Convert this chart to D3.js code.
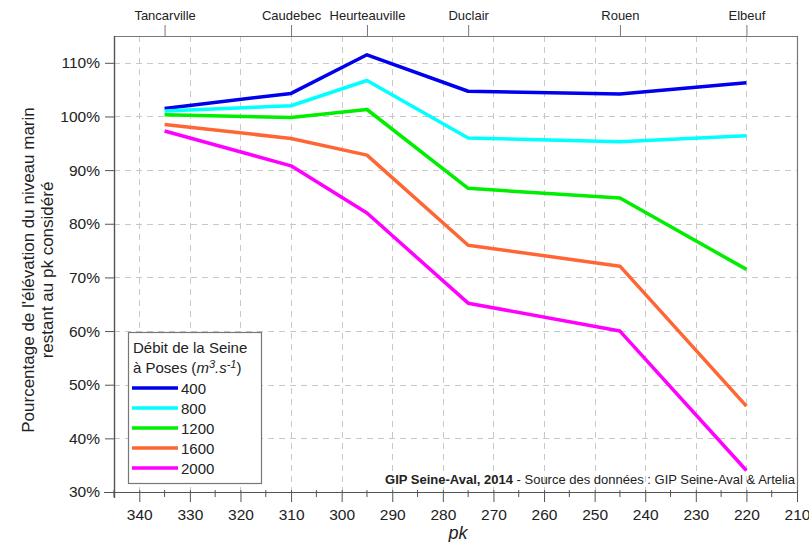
<!DOCTYPE html>
<html lang="fr">
<head>
<meta charset="UTF-8">
<script src="https://d3js.org/d3.v7.min.js"></script>
<style>
  body { margin: 0; background: #fff; }
  text { font-family: "Liberation Sans", Arial, sans-serif; fill: #222; }
</style>
</head>
<body>
<script>
  // pk of each station along the Seine
  var pk = [335, 310, 295, 275, 245, 220];
  var stations = ["Tancarville", "Caudebec", "Heurteauville", "Duclair", "Rouen", "Elbeuf"];

  var debits = ["400", "800", "1200", "1600", "2000"];
  var colors = ["#0000ee", "#00ffff", "#00ee00", "#ff6633", "#ff00ff"];

  var v400  = [101.5, 104.3, 111.5, 104.7, 104.2, 106.3];
  var v800  = [101.0, 102.0, 106.7, 96.0, 95.3, 96.4];
  var v1200 = [100.3, 99.8, 101.3, 86.6, 84.8, 71.5];
  var v1600 = [98.5, 95.9, 92.8, 76.0, 72.1, 46.0];
  var v2000 = [97.3, 90.8, 82.0, 65.2, 60.0, 34.0];
  var series = [v400, v800, v1200, v1600, v2000];

  var xTicks = [340, 330, 320, 310, 300, 290, 280, 270, 260, 250, 240, 230, 220, 210];
  var yTicks = [30, 40, 50, 60, 70, 80, 90, 100, 110];

  var W = 809, H = 542;
  var L = 114, R = 797, T = 36, B = 492;

  var svg = d3.select("body").append("svg")
    .attr("width", W).attr("height", H);

  var x = d3.scaleLinear().domain([345, 210]).range([L, R]);
  var y = d3.scaleLinear().domain([30, 115]).range([B, T]);

  // grid
  var grid = svg.append("g")
    .attr("stroke", "#c8c8c8").attr("stroke-width", 1).attr("stroke-dasharray", "6,5");
  grid.selectAll(".gx").data(xTicks.filter(d => d > 210)).enter().append("line")
    .attr("x1", d => Math.round(x(d)) + 0.5).attr("x2", d => Math.round(x(d)) + 0.5)
    .attr("y1", T).attr("y2", B);
  grid.selectAll(".gy").data(yTicks.filter(d => d > 30)).enter().append("line")
    .attr("y1", d => Math.round(y(d)) + 0.5).attr("y2", d => Math.round(y(d)) + 0.5)
    .attr("x1", L).attr("x2", R);

  // frame (top and right)
  svg.append("path")
    .attr("d", `M${L},${T + 0.5}H${R + 0.5}V${B}`)
    .attr("fill", "none").attr("stroke", "#777").attr("stroke-width", 1.2);

  // series lines
  var line = d3.line().x((d, i) => x(pk[i])).y(d => y(d));
  svg.append("g").selectAll("path").data(series).enter().append("path")
    .attr("d", line)
    .attr("fill", "none")
    .attr("stroke", (d, i) => colors[i])
    .attr("stroke-width", 3.5)
    .attr("stroke-linejoin", "round");

  // bottom axis
  var minor = d3.range(345, 209, -5).filter(d => d % 10 !== 0);
  var xAxis = svg.append("g").attr("transform", `translate(0,${B})`);
  xAxis.call(d3.axisBottom(x).tickValues(xTicks).tickSize(10).tickPadding(7).tickFormat(d3.format("d")));
  xAxis.select(".domain").remove();
  xAxis.selectAll(".tick line").attr("stroke", "#555").attr("y1", -2);
  xAxis.selectAll(".tick text").style("font-size", "15.5px").attr("fill", "#222");
  xAxis.selectAll(".minor").data(minor).enter().append("line")
    .attr("x1", d => x(d)).attr("x2", d => x(d)).attr("y1", -2).attr("y2", 5)
    .attr("stroke", "#555");
  xAxis.append("line").attr("x1", L - 10).attr("x2", R + 0.5).attr("y1", 0.5).attr("y2", 0.5)
    .attr("stroke", "#555").attr("stroke-width", 1.2);

  // left axis
  var yAxis = svg.append("g").attr("transform", `translate(${L},0)`);
  yAxis.call(d3.axisLeft(y).tickValues(yTicks).tickSize(9).tickPadding(5).tickFormat(d => d + "%"));
  yAxis.select(".domain").remove();
  yAxis.selectAll(".tick line").attr("stroke", "#555");
  yAxis.selectAll(".tick text").style("font-size", "15.5px").attr("fill", "#222");
  yAxis.append("line").attr("x1", 0.5).attr("x2", 0.5).attr("y1", T).attr("y2", B + 6)
    .attr("stroke", "#555").attr("stroke-width", 1.4);

  // top axis with stations
  var topAxis = svg.append("g").attr("transform", `translate(0,${T})`);
  topAxis.call(d3.axisTop(x).tickValues(pk).tickSize(11).tickPadding(5).tickFormat((d, i) => stations[i]));
  topAxis.select(".domain").remove();
  topAxis.selectAll(".tick line").attr("stroke", "#777");
  topAxis.selectAll(".tick text").style("font-size", "13px").attr("fill", "#222");

  // axis titles
  svg.append("text").attr("x", x(277)).attr("y", 539)
    .attr("text-anchor", "middle").style("font-size", "18px").style("font-style", "italic")
    .text("pk");
  var yl = svg.append("text").attr("transform", "translate(0,270) rotate(-90)")
    .attr("text-anchor", "middle").style("font-size", "17px");
  yl.append("tspan").attr("x", 0).attr("y", 34).text("Pourcentage de l'élévation du niveau marin");
  yl.append("tspan").attr("x", 0).attr("y", 53).text("restant au pk considéré");

  // source note
  var src = svg.append("text").attr("x", 795).attr("y", 484)
    .attr("text-anchor", "end").style("font-size", "13px");
  src.append("tspan").style("font-weight", "bold").text("GIP Seine-Aval, 2014");
  src.append("tspan").text(" - Source des données : GIP Seine-Aval & Artelia");

  // legend
  var lg = svg.append("g").attr("transform", "translate(128,332)");
  lg.append("rect").attr("x", 0.5).attr("y", 0.5).attr("width", 133).attr("height", 151)
    .attr("fill", "#fff").attr("stroke", "#777").attr("stroke-width", 1.2);
  lg.append("text").attr("x", 5).attr("y", 21).style("font-size", "15px").text("Débit de la Seine");
  var l2 = lg.append("text").attr("x", 5).attr("y", 41).style("font-size", "15px");
  l2.append("tspan").text("à Poses (");
  l2.append("tspan").style("font-style", "italic").text("m");
  l2.append("tspan").style("font-style", "italic").style("font-size", "11px").attr("dy", -5).text("3");
  l2.append("tspan").style("font-style", "italic").attr("dy", 5).text(".s");
  l2.append("tspan").style("font-style", "italic").style("font-size", "11px").attr("dy", -5).text("-1");
  l2.append("tspan").attr("dy", 5).text(")");
  var items = lg.selectAll(".item").data(debits).enter().append("g")
    .attr("transform", (d, i) => `translate(0,${56 + i * 20})`);
  items.append("line").attr("x1", 4).attr("x2", 50).attr("y1", 0).attr("y2", 0)
    .attr("stroke", (d, i) => colors[i]).attr("stroke-width", 3.5);
  items.append("text").attr("x", 53).attr("y", 5.5).style("font-size", "15px").text(d => d);
</script>
</body>
</html>
